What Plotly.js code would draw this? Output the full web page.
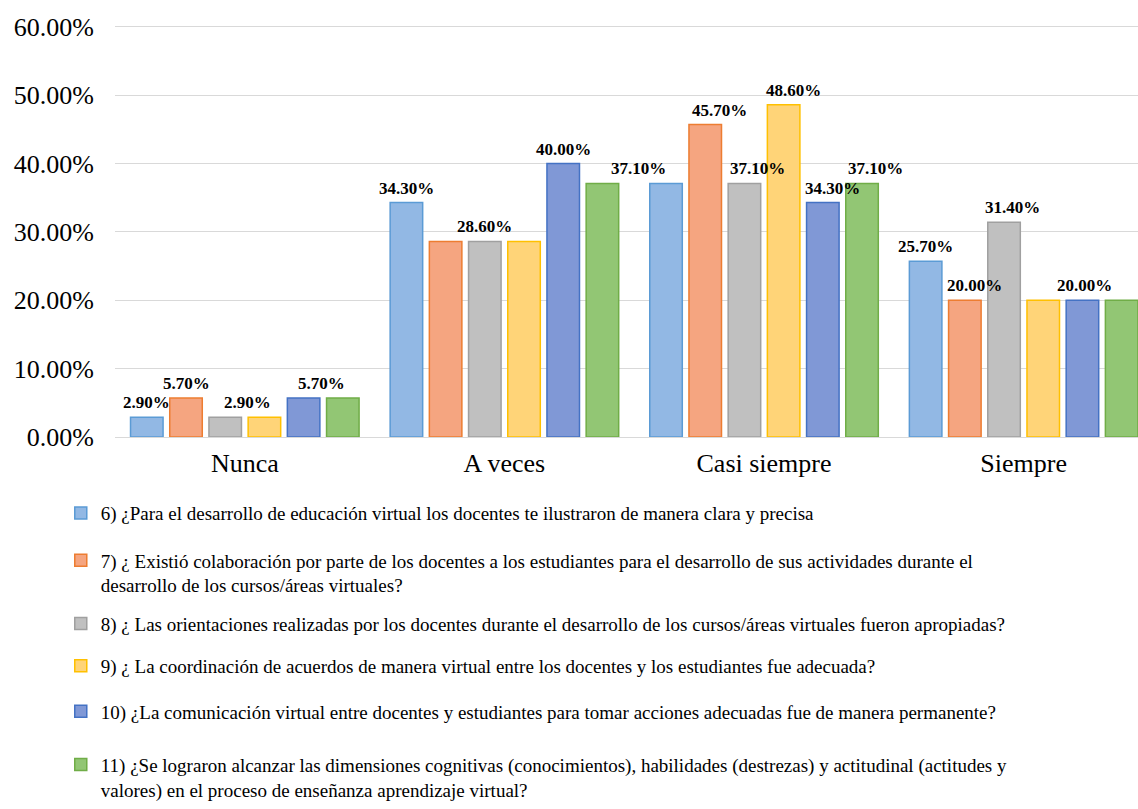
<!DOCTYPE html>
<html><head><meta charset="utf-8">
<script src="https://cdn.plot.ly/plotly-3.0.1.min.js"></script>
<style>html,body{margin:0;padding:0;background:#fff}#chart{width:1138px;height:809px}</style>
</head><body><div id="chart"></div>
<script>
const categories = ['Nunca', 'A veces', 'Casi siempre', 'Siempre'];
const seriesNames = [
  '6) ¿Para el desarrollo de educación virtual los docentes te ilustraron de manera clara y precisa',
  '7) ¿ Existió colaboración por parte de los docentes a los estudiantes para el desarrollo de sus actividades durante el<br>desarrollo de los cursos/áreas virtuales?',
  '8) ¿ Las orientaciones realizadas por los docentes durante el desarrollo de los cursos/áreas virtuales fueron apropiadas?',
  '9) ¿ La coordinación de acuerdos de manera virtual entre los docentes y los estudiantes fue adecuada?',
  '10) ¿La comunicación virtual entre docentes y estudiantes para tomar acciones adecuadas fue de manera permanente?',
  '11) ¿Se lograron alcanzar las dimensiones cognitivas (conocimientos), habilidades (destrezas) y actitudinal (actitudes y<br>valores) en el proceso de enseñanza aprendizaje virtual?'
];
const q6  = [2.9, 34.3, 37.1, 25.7];
const q7  = [5.7, 28.6, 45.7, 20.0];
const q8  = [2.9, 28.6, 37.1, 31.4];
const q9  = [2.9, 28.6, 48.6, 20.0];
const q10 = [5.7, 40.0, 34.3, 20.0];
const q11 = [5.7, 37.1, 37.1, 20.0];
const yTicks = [0, 10, 20, 30, 40, 50, 60];

// which value labels are visible in the source (overlapping duplicates hidden)
const labelShown = [
  [1, 1, 0, 1],
  [1, 0, 1, 1],
  [1, 1, 1, 1],
  [0, 0, 1, 0],
  [1, 1, 1, 1],
  [0, 1, 1, 0]
];
// horizontal nudges of the labels (px), style only
const labelNudge = [
  [0, 0, 0, 0],
  [0, 0, 14, 10],
  [22, 0, 13, 8],
  [0, 0, 10, 0],
  [18, 0, 10, 2],
  [0, 36, 13, 0]
];

const FONT = 'Liberation Serif, Times New Roman, serif';
const fills = ['rgb(146,184,228)', 'rgb(245,165,128)', 'rgb(192,192,192)', 'rgb(255,212,120)', 'rgb(128,152,214)', 'rgb(146,198,116)'];
const lines = ['rgb(91,155,213)', 'rgb(237,125,49)', 'rgb(160,160,160)', 'rgb(255,192,0)', 'rgb(68,114,196)', 'rgb(112,173,71)'];
const legendFirstLineY = [519, 567, 631, 674, 720, 774]; // px from top

const series = [q6, q7, q8, q9, q10, q11];
const bargap = 0.094, bargroupgap = 0.17;
const plotTop = 20, plotBottom = 443;

const traces = series.map((vals, i) => ({
  type: 'bar',
  name: seriesNames[i],
  x: categories,
  y: vals,
  marker: {color: fills[i], line: {color: lines[i], width: 1.5}},
  legend: i === 0 ? 'legend' : 'legend' + (i + 1),
  hoverinfo: 'skip'
}));

const slot = (1 - bargap) / series.length;
const annotations = [];
series.forEach((vals, i) => {
  vals.forEach((v, c) => {
    if (!labelShown[i][c]) return;
    annotations.push({
      xref: 'x', yref: 'y',
      x: c + (i - (series.length - 1) / 2) * slot,
      y: v,
      text: v.toFixed(2) + '%',
      showarrow: false,
      xanchor: 'center', yanchor: 'bottom',
      xshift: labelNudge[i][c], yshift: 3,
      font: {size: 17, color: '#000', family: FONT, weight: 'bold'}
    });
  });
});

const layout = {
  width: 1138, height: 809,
  margin: {l: 115, r: 0, t: plotTop, b: 809 - plotBottom, pad: 0},
  paper_bgcolor: '#ffffff', plot_bgcolor: '#ffffff',
  font: {family: FONT, color: '#000'},
  barmode: 'group', bargap: bargap, bargroupgap: bargroupgap,
  xaxis: {
    type: 'category', range: [-0.5, 3.4405],
    showgrid: false, showline: false, zeroline: false, ticks: '',
    tickfont: {size: 26, color: '#000', family: FONT}, ticklabelstandoff: 8, fixedrange: true
  },
  yaxis: {
    range: [0, 61], tickvals: yTicks, ticktext: yTicks.map(v => v.toFixed(2) + '%'),
    showgrid: true, gridcolor: '#d9d9d9', gridwidth: 1,
    zeroline: true, zerolinecolor: '#d9d9d9', zerolinewidth: 1,
    showline: false, ticks: '',
    tickfont: {size: 26, color: '#000', family: FONT}, ticklabelstandoff: 20, fixedrange: true
  },
  showlegend: true,
  annotations: annotations
};

legendFirstLineY.forEach((py, i) => {
  const key = i === 0 ? 'legend' : 'legend' + (i + 1);
  layout[key] = {
    x: -0.053, xanchor: 'left',
    y: (plotBottom - (py - 18)) / (plotBottom - plotTop), yanchor: 'top',
    bgcolor: 'rgba(0,0,0,0)', borderwidth: 0, valign: 'top',
    font: {size: 19, color: '#000', family: FONT},
    itemclick: false, itemdoubleclick: false
  };
});

Plotly.newPlot('chart', traces, layout, {displayModeBar: false, staticPlot: true});
</script>
</body></html>
